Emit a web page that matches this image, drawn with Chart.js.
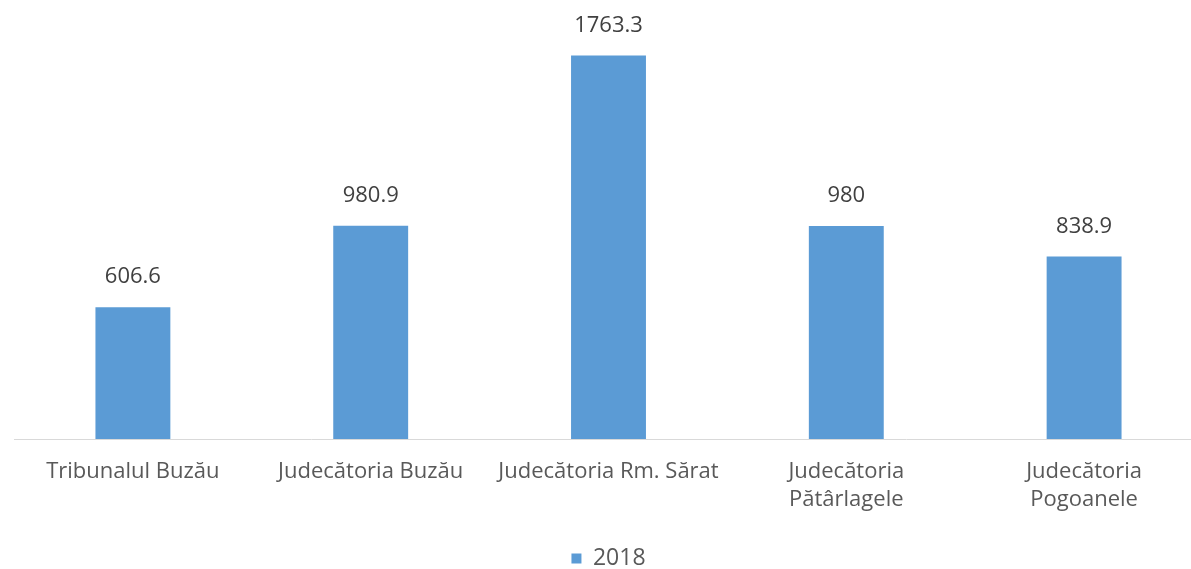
<!DOCTYPE html>
<html><head><meta charset="utf-8">
<script src="https://cdn.jsdelivr.net/npm/chart.js@4"></script>
<style>html,body{margin:0;padding:0;background:#fff;overflow:hidden}#wrap{width:1230px;height:569px;position:relative}</style>
</head><body><div id="wrap"><canvas id="c"></canvas></div>
<script>
const categories = ["Tribunalul Buzău", "Judecătoria Buzău", "Judecătoria Rm. Sărat", ["Judecătoria", "Pătârlagele"], ["Judecătoria", "Pogoanele"]];
const seriesName = "2018";
const values2018 = [606.6, 980.9, 1763.3, 980, 838.9];
const valueLabels = ["606.6", "980.9", "1763.3", "980", "838.9"];

const FONT = "'Open Sans', 'DejaVu Sans', sans-serif";
const labelPlugin = {
  id: 'vlabels',
  afterDatasetsDraw(chart) {
    const ctx = chart.ctx;
    const meta = chart.getDatasetMeta(0);
    ctx.save();
    ctx.font = "22px " + FONT;
    ctx.fillStyle = "#404040";
    ctx.textAlign = "center";
    ctx.textBaseline = "middle";
    meta.data.forEach((bar, i) => {
      ctx.fillText(valueLabels[i], bar.x, bar.y - 30);
    });
    ctx.restore();
  }
};

new Chart(document.getElementById('c'), {
  type: 'bar',
  data: {
    labels: categories,
    datasets: [{
      label: seriesName,
      data: values2018,
      backgroundColor: '#5B9BD5',
      borderWidth: 0,
      barPercentage: 0.315,
      categoryPercentage: 1
    }]
  },
  options: {
    responsive: true,
    maintainAspectRatio: false,
    animation: false,
    layout: { padding: { left: 14, right: 27, top: 4, bottom: -11 } },
    plugins: {
      legend: {
        position: 'bottom',
        labels: { boxWidth: 10, boxHeight: 10, color: '#595959', font: { family: FONT, size: 23 }, padding: 14 }
      },
      tooltip: { enabled: false }
    },
    scales: {
      x: {
        grid: { display: false, drawTicks: false },
        border: { color: '#d9d9d9', width: 1 },
        ticks: { color: '#595959', font: { family: FONT, size: 22, lineHeight: 1.27 }, padding: 19, maxRotation: 0, autoSkip: false }
      },
      y: {
        display: false,
        min: 0, max: 2000
      }
    }
  },
  plugins: [labelPlugin]
});
</script></body></html>
